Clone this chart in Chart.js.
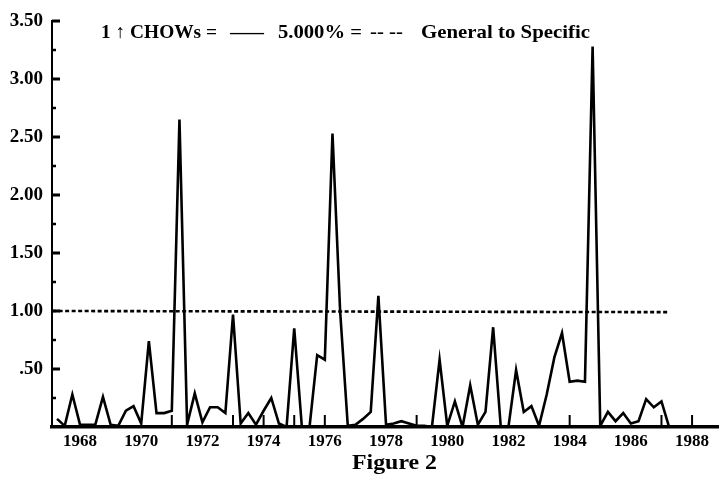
<!DOCTYPE html>
<html><head><meta charset="utf-8">
<script src="https://cdn.jsdelivr.net/npm/chart.js@4.4.1/dist/chart.umd.min.js"></script>
<style>html,body{margin:0;padding:0;background:#fff}#wrap{width:719px;height:478px;position:relative}canvas{display:block}</style>
</head><body><div id="wrap"><canvas id="c" width="719" height="478" style="width:719px;height:478px"></canvas></div>
<script>
// Quarterly dates (year fractions)
const quarters = [1967.25,1967.5,1967.75,1968,1968.25,1968.5,1968.75,1969,1969.25,1969.5,1969.75,1970,1970.25,1970.5,1970.75,1971,1971.25,1971.5,1971.75,1972,1972.25,1972.5,1972.75,1973,1973.25,1973.5,1973.75,1974,1974.25,1974.5,1974.75,1975,1975.25,1975.5,1975.75,1976,1976.25,1976.5,1976.75,1977,1977.25,1977.5,1977.75,1978,1978.25,1978.5,1978.75,1979,1979.25,1979.5,1979.75,1980,1980.25,1980.5,1980.75,1981,1981.25,1981.5,1981.75,1982,1982.25,1982.5,1982.75,1983,1983.25,1983.5,1983.75,1984,1984.25,1984.5,1984.75,1985,1985.25,1985.5,1985.75,1986,1986.25,1986.5,1986.75,1987,1987.25];
// 1-step Chow statistics (scaled by 5% critical value)
const chowValues = [0.07,0.01,0.28,0.02,0.02,0.02,0.26,0.02,0.01,0.14,0.18,0.03,0.74,0.12,0.12,0.14,2.65,0.02,0.29,0.04,0.17,0.17,0.12,0.97,0.03,0.12,0.02,0.14,0.25,0.03,0.00,0.85,0.00,0.00,0.62,0.58,2.53,1.00,0.01,0.02,0.07,0.13,1.13,0.02,0.03,0.05,0.03,0.01,0.01,0.00,0.58,0.01,0.22,0.00,0.36,0.02,0.13,0.86,0.00,0.00,0.49,0.13,0.18,0.01,0.28,0.60,0.81,0.39,0.40,0.39,3.28,0.01,0.13,0.05,0.12,0.03,0.05,0.24,0.17,0.22,0.00];
// 5% critical value line
const critYears = [1967.09, 1987.25];
const critValues = [1.00, 0.99];
// Axis ticks
const xLabelYears = [1968,1970,1972,1974,1976,1978,1980,1982,1984,1986,1988];
const xMarkYears = [1971,1973,1974,1975,1976,1979,1984,1987,1988];
const yTickValues = [0,0.25,0.5,0.75,1,1.25,1.5,1.75,2,2.25,2.5,2.75,3,3.25,3.5];
const yTickLabels = {0.5:'.50',1:'1.00',1.5:'1.50',2:'2.00',2.5:'2.50',3:'3.00',3.5:'3.50'};
// Texts
const legendParts = ['1 \u2191 CHOWs =', '\u2014\u2014', '5.000% =', '-- --', 'General to Specific'];
const figureCaption = 'Figure 2';

const SERIF = '"Liberation Serif", "Times New Roman", serif';

function fitText(ctx, txt, x0, x1, y) {
  const w = ctx.measureText(txt).width;
  ctx.save();
  ctx.translate(x0, y);
  ctx.scale((x1 - x0) / w, 1);
  ctx.fillText(txt, 0, 0);
  ctx.restore();
}

const decor = {
  id: 'decor',
  afterDraw(chart) {
    const {ctx, chartArea: a, scales: {x, y}} = chart;
    ctx.save();
    ctx.strokeStyle = '#000';
    ctx.lineCap = 'butt';
    // y-axis inward tick marks
    yTickValues.forEach(v => {
      if (v === 0) return;
      const py = y.getPixelForValue(v);
      const major = (v * 2) % 1 === 0;
      ctx.lineWidth = major ? 3 : 2.5;
      ctx.beginPath();
      ctx.moveTo(a.left, py);
      ctx.lineTo(a.left + (major ? 8 : 4), py);
      ctx.stroke();
    });
    // x-axis upward year marks
    ctx.lineWidth = 2;
    xMarkYears.forEach(v => {
      const px = x.getPixelForValue(v);
      ctx.beginPath();
      ctx.moveTo(px, a.bottom);
      ctx.lineTo(px, a.bottom - 12);
      ctx.stroke();
    });
    // legend text
    ctx.fillStyle = '#000';
    ctx.font = 'bold 19px ' + SERIF;
    ctx.textBaseline = 'alphabetic';
    ctx.textAlign = 'left';
    fitText(ctx, legendParts[0], 101, 217, 38);
    fitText(ctx, legendParts[1], 230, 264, 38);
    fitText(ctx, legendParts[2], 278, 362, 38);
    fitText(ctx, legendParts[3], 370, 403, 38);
    fitText(ctx, legendParts[4], 421, 590, 38);
    // caption
    ctx.font = 'bold 22px ' + SERIF;
    fitText(ctx, figureCaption, 352, 437, 469);
    ctx.restore();
  }
};

new Chart(document.getElementById('c'), {
  type: 'line',
  data: {
    datasets: [
      {
        label: '1 \u2191 CHOWs',
        data: quarters.map((q, i) => ({x: q, y: chowValues[i]})),
        borderColor: '#000',
        borderWidth: 2.6,
        pointRadius: 0,
        tension: 0,
        borderJoinStyle: 'miter',
        fill: false
      },
      {
        label: '5.000%',
        data: critYears.map((q, i) => ({x: q, y: critValues[i]})),
        borderColor: '#000',
        borderWidth: 2.6,
        borderDash: [4, 2.5],
        pointRadius: 0,
        fill: false
      }
    ]
  },
  options: {
    responsive: false,
    animation: false,
    devicePixelRatio: 1,
    layout: {padding: {top: 21, right: 0, left: 0, bottom: 0}},
    plugins: {legend: {display: false}, tooltip: {enabled: false}, title: {display: false}},
    scales: {
      x: {
        type: 'linear',
        min: 1967.085,
        max: 1988.88,
        afterBuildTicks: s => { s.ticks = xLabelYears.map(v => ({value: v})); },
        afterFit: s => { s.height = 51; },
        ticks: {
          autoSkip: false, maxRotation: 0, padding: 4, color: '#000',
          font: {family: SERIF, size: 17, weight: 'bold'},
          callback: v => String(v)
        },
        grid: {display: true, drawOnChartArea: false, drawTicks: false},
        border: {display: true, color: '#000', width: 3.5},
        title: {display: false}
      },
      y: {
        type: 'linear',
        min: 0,
        max: 3.5,
        afterBuildTicks: s => { s.ticks = yTickValues.map(v => ({value: v})); },
        afterFit: s => { s.width = 52; },
        ticks: {
          autoSkip: false, padding: 9, color: '#000',
          font: {family: SERIF, size: 19, weight: 'bold'},
          callback: v => yTickLabels[v] || ''
        },
        grid: {display: true, drawOnChartArea: false, drawTicks: false},
        border: {display: true, color: '#000', width: 2}
      }
    }
  },
  plugins: [decor]
});
</script>
</body></html>
